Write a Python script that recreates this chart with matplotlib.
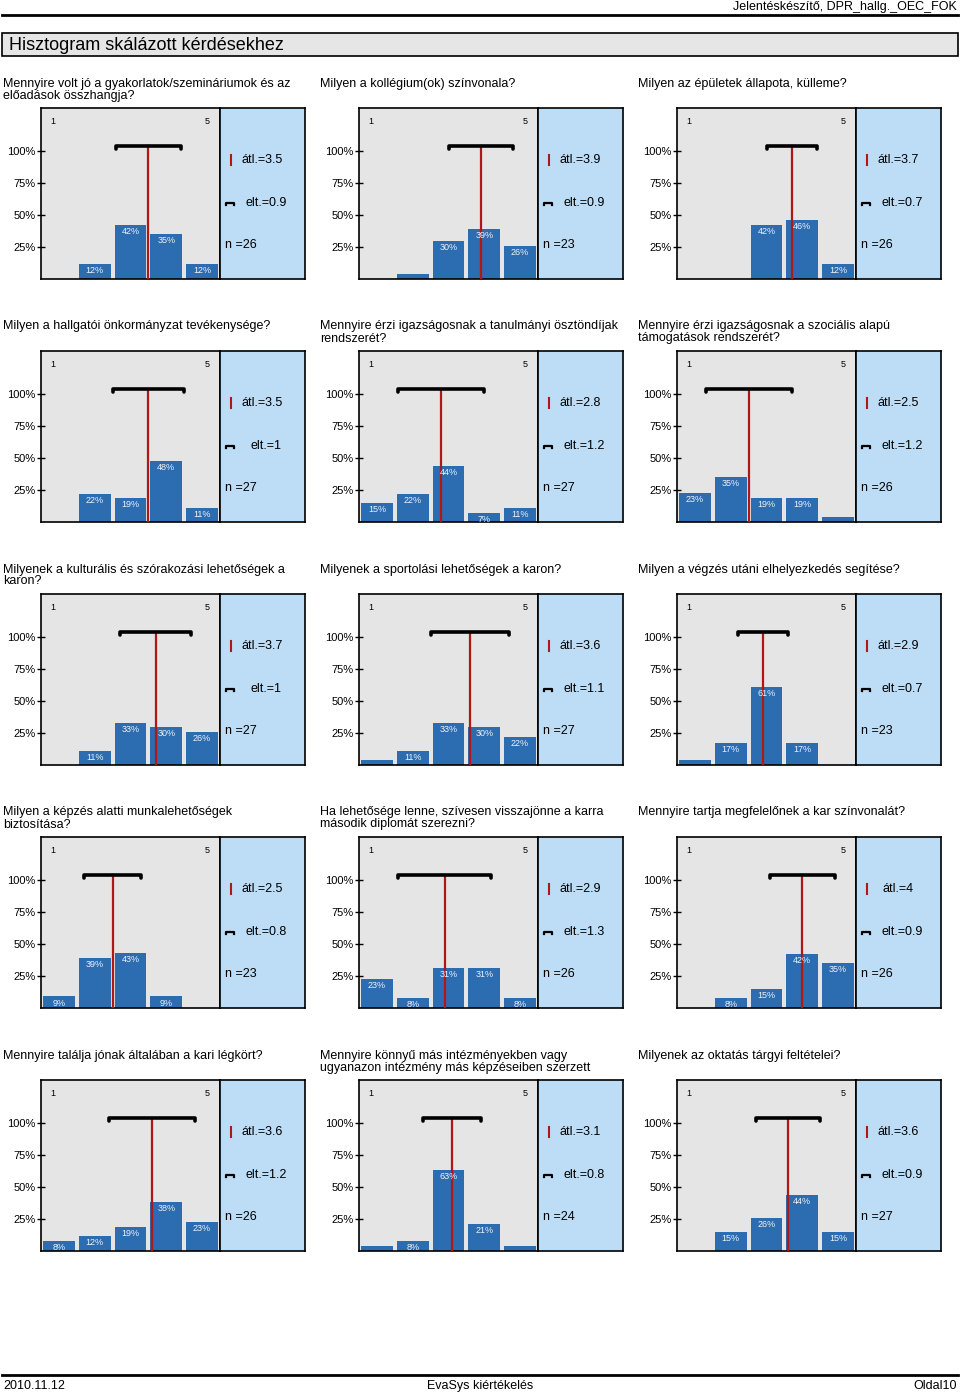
import matplotlib
matplotlib.use("Agg")
import matplotlib.pyplot as plt
from matplotlib.lines import Line2D

plt.rcParams['font.family'] = ['Liberation Sans', 'DejaVu Sans']

W, H = 960, 1395

questions = [
    "Mennyire volt jó a gyakorlatok/szemináriumok és az\nelőadások összhangja?",
    "Milyen a kollégium(ok) színvonala?",
    "Milyen az épületek állapota, külleme?",
    "Milyen a hallgatói önkormányzat tevékenysége?",
    "Mennyire érzi igazságosnak a tanulmányi ösztöndíjak\nrendszerét?",
    "Mennyire érzi igazságosnak a szociális alapú\ntámogatások rendszerét?",
    "Milyenek a kulturális és szórakozási lehetőségek a\nkaron?",
    "Milyenek a sportolási lehetőségek a karon?",
    "Milyen a végzés utáni elhelyezkedés segítése?",
    "Milyen a képzés alatti munkalehetőségek\nbiztosítása?",
    "Ha lehetősége lenne, szívesen visszajönne a karra\nmásodik diplomát szerezni?",
    "Mennyire tartja megfelelőnek a kar színvonalát?",
    "Mennyire találja jónak általában a kari légkört?",
    "Mennyire könnyű más intézményekben vagy\nugyanazon intézmény más képzéseiben szerzett",
    "Milyenek az oktatás tárgyi feltételei?",
]

scale = [1, 2, 3, 4, 5]
percentages = [
    [0, 12, 42, 35, 12],
    [0, 4, 30, 39, 26],
    [0, 0, 42, 46, 12],
    [0, 22, 19, 48, 11],
    [15, 22, 44, 7, 11],
    [23, 35, 19, 19, 4],
    [0, 11, 33, 30, 26],
    [4, 11, 33, 30, 22],
    [4, 17, 61, 17, 0],
    [9, 39, 43, 9, 0],
    [23, 8, 31, 31, 8],
    [0, 8, 15, 42, 35],
    [8, 12, 19, 38, 23],
    [4, 8, 63, 21, 4],
    [0, 15, 26, 44, 15],
]
means = [3.5, 3.9, 3.7, 3.5, 2.8, 2.5, 3.7, 3.6, 2.9, 2.5, 2.9, 4, 3.6, 3.1, 3.6]
sds = [0.9, 0.9, 0.7, 1, 1.2, 1.2, 1, 1.1, 0.7, 0.8, 1.3, 0.9, 1.2, 0.8, 0.9]
ns = [26, 23, 26, 27, 27, 26, 27, 27, 23, 23, 26, 26, 26, 24, 27]
yticks = [25, 50, 75, 100]

BAR = "#2c6cb0"
GRAY = "#e5e5e5"
LBLUE = "#bddcf5"
RED = "#b01818"

fig = plt.figure(figsize=(W / 100, H / 100), dpi=100)


def fx(x):
    return x / W


def fy(y):
    return 1 - y / H


def fmt(v):
    return f"{v:g}"

# Header
fig.text(fx(957), fy(7), "Jelentéskészítő, DPR_hallg._OEC_FOK", ha="right", va="center", fontsize=9)
fig.add_artist(Line2D([fx(2), fx(958)], [fy(15), fy(15)], color="black", lw=2))
# Section title box
fig.add_artist(plt.Rectangle((fx(2), fy(56)), fx(956), 23 / H, facecolor="#e6e6e6",
                             edgecolor="black", lw=1.2))
fig.text(fx(9), fy(45), "Hisztogram skálázott kérdésekhez", ha="left", va="center", fontsize=13)

# Footer
fig.add_artist(Line2D([fx(2), fx(958)], [fy(1375), fy(1375)], color="black", lw=2))
fig.text(fx(3), fy(1386), "2010.11.12", ha="left", va="center", fontsize=9)
fig.text(fx(480), fy(1386), "EvaSys kiértékelés", ha="center", va="center", fontsize=9)
fig.text(fx(957), fy(1386), "Oldal10", ha="right", va="center", fontsize=9)

col_x = [41, 359, 677]
text_x = [3, 320, 638]
row_top = [108, 351, 594, 837, 1080]
GW, BW, PH = 179, 85, 171
YMAX = 171 / 1.28

for i in range(15):
    r, c = divmod(i, 3)
    x0 = col_x[c]
    top = row_top[r]
    # question text
    fig.text(fx(text_x[c]), fy(top - 30.5), questions[i], ha="left", va="top",
             fontsize=9, linespacing=1.0)

    ax = fig.add_axes([fx(x0), fy(top + PH), GW / W, PH / H])
    ax.set_facecolor(GRAY)
    ax.set_xlim(0.5, 5.5)
    ax.set_ylim(0, YMAX)
    vals = percentages[i]
    ax.bar(scale, vals, width=0.89, color=BAR, zorder=2)
    for k, v in zip(scale, vals):
        if v >= 5:
            ax.annotate(f"{v}%", (k, v), xytext=(0, -1.5), textcoords="offset points",
                        ha="center", va="top", color="#eef3fa", fontsize=6.5, zorder=4)
    m, s = means[i], sds[i]
    ax.plot([m, m], [0, 104], color=RED, lw=1.6, zorder=3)
    ax.plot([m - s, m - s, m + s, m + s], [101.8, 104, 104, 101.8], color="black",
            lw=2.6, solid_joinstyle="round", solid_capstyle="round", zorder=5)
    ax.text(0.83, 123, "1", ha="center", va="center", fontsize=6.5)
    ax.text(5.14, 123, "5", ha="center", va="center", fontsize=6.5)
    ax.set_xticks([])
    ax.set_yticks(yticks)
    ax.set_yticklabels([f"{t}%" for t in yticks], fontsize=8)
    ax.tick_params(axis="y", direction="inout", length=6, width=1, pad=1)
    for sp in ax.spines.values():
        sp.set_linewidth(1.2)

    bx = fig.add_axes([fx(x0 + GW), fy(top + PH), BW / W, PH / H])
    bx.set_facecolor(LBLUE)
    bx.set_xlim(0, 1)
    bx.set_ylim(0, 1)
    bx.set_xticks([])
    bx.set_yticks([])
    for sp in bx.spines.values():
        sp.set_linewidth(1.2)
    bx.plot([0.13, 0.13], [0.665, 0.725], color=RED, lw=1.5)
    bx.plot([0.07, 0.07, 0.165, 0.165], [0.43, 0.445, 0.445, 0.43], color="black", lw=1.6)
    bx.text(0.5, 0.695, f"átl.={fmt(m)}", ha="center", va="center", fontsize=9)
    bx.text(0.54, 0.445, f"elt.={fmt(s)}", ha="center", va="center", fontsize=9)
    bx.text(0.06, 0.2, f"n ={ns[i]}", ha="left", va="center", fontsize=9)

fig.savefig("out.png", dpi=100)
